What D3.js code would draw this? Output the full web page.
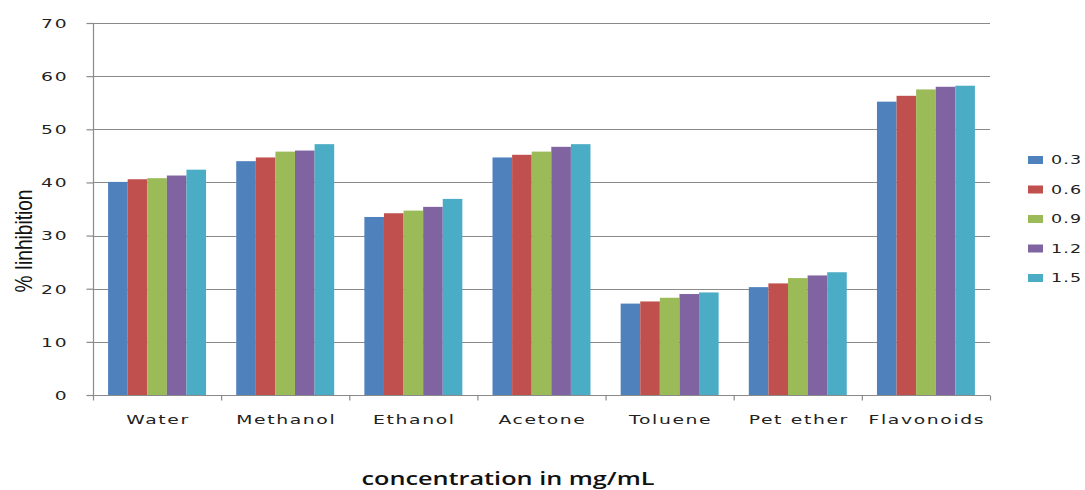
<!DOCTYPE html>
<html>
<head>
<meta charset="utf-8">
<script src="https://cdn.jsdelivr.net/npm/d3@7"></script>
<style>
  html, body { margin: 0; padding: 0; background: #fff; }
  svg { display: block; }
</style>
</head>
<body>
<svg id="chart" width="1085" height="490"></svg>
<script>
const categories = ["Water", "Methanol", "Ethanol", "Acetone", "Toluene", "Pet ether", "Flavonoids"];
const seriesNames = ["0.3", "0.6", "0.9", "1.2", "1.5"];
const s03 = [40.1, 44.0, 33.5, 44.7, 17.2, 20.3, 55.2];
const s06 = [40.6, 44.7, 34.2, 45.2, 17.6, 21.0, 56.3];
const s09 = [40.8, 45.8, 34.7, 45.8, 18.3, 22.0, 57.5];
const s12 = [41.3, 46.0, 35.4, 46.7, 19.0, 22.5, 58.0];
const s15 = [42.4, 47.2, 36.9, 47.2, 19.3, 23.1, 58.2];
const yTicks = [0, 10, 20, 30, 40, 50, 60, 70];
const colors = ["#4F81BD", "#C0504D", "#9BBB59", "#8064A2", "#4BACC6"];
const yTitle = "% Iinhibition";
const xTitle = "concentration in mg/mL";

const seriesValues = [s03, s06, s09, s12, s15];

const svg = d3.select("#chart");
const plotLeft = 93, plotRight = 990, plotTop = 23, plotBottom = 395;

const x0 = d3.scaleBand().domain(categories).range([plotLeft, plotRight]).padding(0);
const x1 = d3.scaleBand().domain(seriesNames).range([0, x0.bandwidth()])
  .paddingInner(0).paddingOuter(0.77);
const y = d3.scaleLinear().domain([0, 70]).range([plotBottom, plotTop]);

const gridColor = "#8a8a8a";
const SX = 1.5; // horizontal stretch of reference text
const textFont = "DejaVu Sans, Verdana, sans-serif";

// gridlines
svg.append("g").selectAll("line").data(yTicks.filter(d => d > 0)).join("line")
  .attr("x1", plotLeft).attr("x2", plotRight)
  .attr("y1", d => Math.round(y(d)) + 0.5).attr("y2", d => Math.round(y(d)) + 0.5)
  .attr("stroke", gridColor).attr("stroke-width", 1.2);

// bars
const groups = svg.append("g").selectAll("g").data(seriesNames).join("g")
  .attr("fill", (d, i) => colors[i]);
groups.selectAll("rect").data((s, i) => categories.map((c, j) => ({c, s, v: seriesValues[i][j]})))
  .join("rect")
  .attr("x", d => x0(d.c) + x1(d.s))
  .attr("width", x1.bandwidth())
  .attr("y", d => y(d.v))
  .attr("height", d => y(0) - y(d.v));

// y axis
const yAxis = d3.axisLeft(y).tickValues(yTicks).tickSize(7).tickFormat(d => d);
const gy = svg.append("g").attr("transform", `translate(${plotLeft + 0.5},0)`).call(yAxis);
gy.select(".domain").attr("stroke", gridColor).attr("stroke-width", 1.2).attr("d", `M0,${plotTop}V${plotBottom}`);
gy.selectAll(".tick line").attr("stroke", gridColor).attr("stroke-width", 1.2);
gy.selectAll(".tick text").remove();
gy.selectAll(".tick").append("g")
  .attr("transform", `translate(-25,0) scale(${SX},1)`)
  .append("text")
  .attr("text-anchor", "end")
  .attr("dy", "0.35em")
  .attr("font-family", textFont)
  .attr("font-size", 12.5)
  .attr("letter-spacing", "1.2px")
  .attr("fill", "#222")
  .text(d => d);

// x axis
const xAxis = d3.axisBottom(x0).tickSize(0).tickFormat("");
const gx = svg.append("g").attr("transform", `translate(0,${plotBottom + 0.5})`).call(xAxis);
gx.select(".domain").attr("stroke", gridColor).attr("stroke-width", 1.2).attr("d", `M${plotLeft},0H${plotRight}`);
const boundaries = categories.map(c => x0(c)).concat([x0(categories[categories.length - 1]) + x0.bandwidth()]);
gx.append("g").selectAll("line").data(boundaries).join("line")
  .attr("x1", d => d + 0.5).attr("x2", d => d + 0.5).attr("y1", 0).attr("y2", 5)
  .attr("stroke", gridColor).attr("stroke-width", 1.2);
gx.append("g").selectAll("g").data(categories).join("g")
  .attr("transform", d => `translate(${x0(d) + x0.bandwidth() / 2 + 1},28) scale(${SX},1)`)
  .append("text")
  .attr("text-anchor", "middle")
  .attr("font-family", textFont)
  .attr("font-size", 12.5)
  .attr("letter-spacing", "1.1px")
  .attr("fill", "#222")
  .text(d => d);

// y title
svg.append("text")
  .attr("transform", `translate(32,241) rotate(-90)`)
  .attr("text-anchor", "middle")
  .attr("font-family", "Liberation Sans Narrow, Arial Narrow, Liberation Sans, sans-serif")
  .attr("font-size", 24)
  .attr("textLength", 103)
  .attr("lengthAdjust", "spacingAndGlyphs")
  .attr("fill", "#111")
  .text(yTitle);

// x title
svg.append("text")
  .attr("x", 508).attr("y", 485)
  .attr("text-anchor", "middle")
  .attr("font-family", "Open Sans, sans-serif")
  .attr("font-weight", 600)
  .attr("font-size", 18)
  .attr("textLength", 293)
  .attr("lengthAdjust", "spacingAndGlyphs")
  .attr("fill", "#111")
  .text(xTitle);

// legend
const legend = svg.append("g").selectAll("g").data(seriesNames).join("g")
  .attr("transform", (d, i) => `translate(1028,${160 + i * 29.5})`);
legend.append("rect")
  .attr("x", 0).attr("y", -4).attr("width", 15).attr("height", 8)
  .attr("fill", (d, i) => colors[i]);
legend.append("g")
  .attr("transform", `translate(23,0) scale(1.4,1)`)
  .append("text")
  .attr("dy", "0.35em")
  .attr("font-family", textFont)
  .attr("font-size", 12.5)
  .attr("letter-spacing", "0.8px")
  .attr("fill", "#222")
  .text(d => d);
</script>
</body>
</html>
